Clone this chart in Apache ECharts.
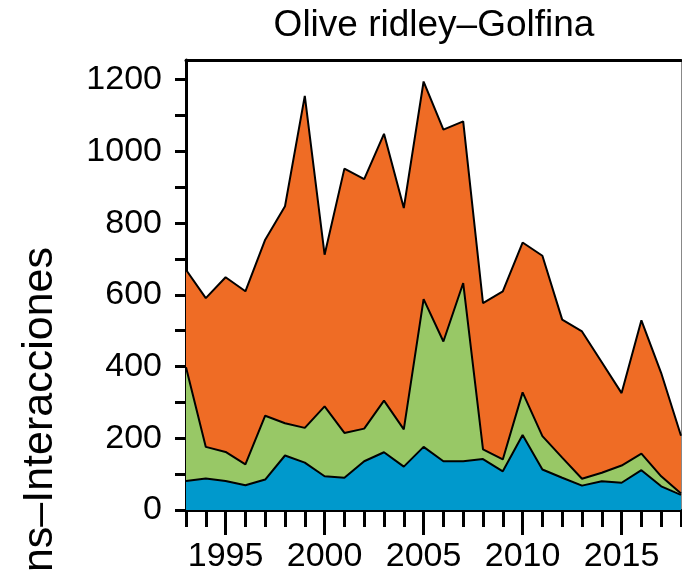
<!DOCTYPE html>
<html><head><meta charset="utf-8">
<script src="https://cdn.jsdelivr.net/npm/echarts@6/dist/echarts.min.js"></script>
<style>html,body{margin:0;padding:0;background:#fff}#c{width:682px;height:574px}</style>
</head><body><div id="c"></div>
<script>
const years = [1993,1994,1995,1996,1997,1998,1999,2000,2001,2002,2003,2004,2005,2006,2007,2008,2009,2010,2011,2012,2013,2014,2015,2016,2017,2018];
const blueVals = [81,88,81,69,85,152,132,94,90,136,161,121,176,136,136,142,108,209,113,90,68,80,76,111,66,42];
const greenVals = [317,88,81,58,178,90,97,195,125,91,144,104,412,334,497,27,33,119,93,56,19,24,48,46,28,4];
const orangeVals = [272,415,487,483,491,605,926,423,737,696,744,617,607,591,451,408,469,418,503,385,411,308,202,372,288,161];
const yTickValues = [0,100,200,300,400,500,600,700,800,900,1000,1100,1200];
const yLabelValues = [0,200,400,600,800,1000,1200];
const xLabelValues = [1995,2000,2005,2010,2015];
const titleText = 'Olive ridley–Golfina';
const yNameText = 'Interactions–Interacciones';

const FONT = '"Liberation Sans", Arial, Helvetica, sans-serif';
const chart = echarts.init(document.getElementById('c'), null, {renderer: 'canvas'});

function areaSeries(name, vals, color) {
  return {
    name: name, type: 'line', stack: 'total',
    data: vals,
    symbol: 'none', showSymbol: false, smooth: false,
    lineStyle: {color: '#000', width: 2},
    areaStyle: {color: color, opacity: 1},
    xAxisIndex: 0, yAxisIndex: 0
  };
}

const yMaxVal = 1255;

chart.setOption({
  animation: false,
  backgroundColor: '#fff',
  title: {
    text: titleText, left: 429, top: 2, textAlign: 'center',
    textStyle: {fontFamily: FONT, fontSize: 37, fontWeight: 'normal', color: '#000'}
  },
  grid: {left: 186, right: 1, top: 60, bottom: 64, containLabel: false},
  xAxis: [
    {
      type: 'category', data: years.map(String), boundaryGap: false, position: 'bottom',
      axisLine: {show: true, lineStyle: {color: '#000', width: 3}},
      axisTick: {show: true, interval: 0, alignWithLabel: true, length: 17, inside: false, lineStyle: {color: '#000', width: 3}},
      axisLabel: {show: false},
      splitLine: {show: false}
    },
    {
      type: 'value', min: 1993, max: 2018, position: 'bottom', offset: 0,
      axisLine: {show: false},
      axisTick: {show: true, customValues: xLabelValues, length: 25, inside: false, lineStyle: {color: '#000', width: 3}},
      axisLabel: {show: true, customValues: xLabelValues, formatter: v => String(v), fontFamily: FONT, fontSize: 34, color: '#000', margin: 30},
      splitLine: {show: false}
    },
    {
      type: 'value', min: 1993, max: 2018, position: 'top',
      axisLine: {show: true, lineStyle: {color: '#000', width: 3}},
      axisTick: {show: false}, axisLabel: {show: false}, splitLine: {show: false}
    }
  ],
  yAxis: [
    {
      type: 'value', min: 0, max: yMaxVal, position: 'left',
      axisLine: {show: true, lineStyle: {color: '#000', width: 3}},
      axisTick: {show: true, customValues: yTickValues, length: 11, inside: false, lineStyle: {color: '#000', width: 3}},
      axisLabel: {show: true, customValues: yLabelValues, formatter: v => String(v), fontFamily: FONT, fontSize: 34, color: '#000', margin: 24},
      splitLine: {show: false}
    },
    {
      type: 'value', min: 0, max: yMaxVal, position: 'right',
      axisLine: {show: true, lineStyle: {color: '#888', width: 1}},
      axisTick: {show: false}, axisLabel: {show: false}, splitLine: {show: false}
    }
  ],
  graphic: [
    {
      type: 'text', x: 40, y: 247, rotation: Math.PI / 2,
      style: {text: yNameText, fontFamily: FONT, fontSize: 43, fill: '#000', align: 'right', verticalAlign: 'middle'}
    }
  ],
  series: [
    areaSeries('Blue', blueVals, '#0099CC'),
    areaSeries('Green', greenVals, '#98C866'),
    areaSeries('Orange', orangeVals, '#EF6C25')
  ]
});
</script>
</body></html>
